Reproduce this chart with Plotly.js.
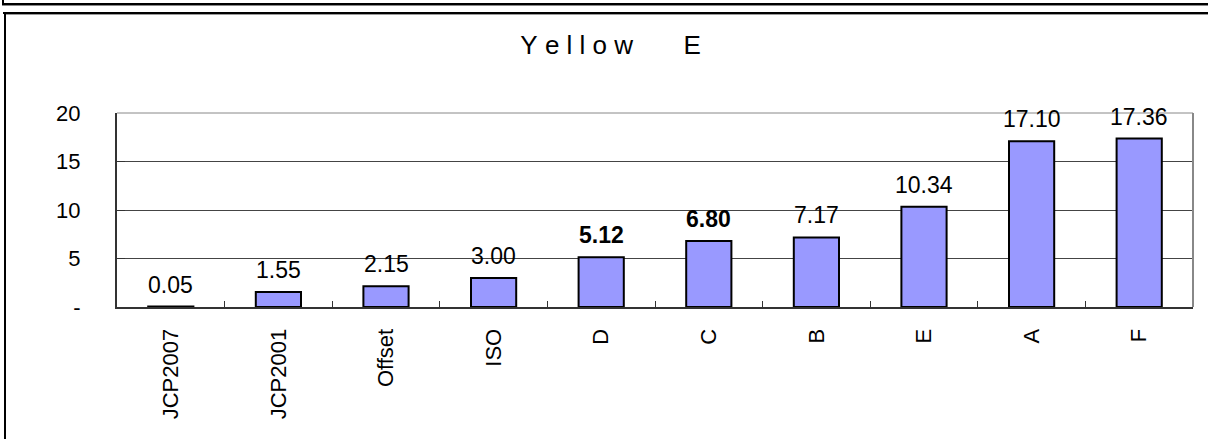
<!DOCTYPE html>
<html>
<head>
<meta charset="utf-8">
<script src="https://cdn.plot.ly/plotly-3.0.1.min.js"></script>
<style>
  html, body { margin: 0; padding: 0; background: #fff; }
  #wrap { position: relative; width: 1208px; height: 439px; overflow: hidden; }
  #chart { position: absolute; left: 0; top: 0; width: 1208px; height: 439px; }
  .ln { position: absolute; pointer-events: none; }
</style>
</head>
<body>
<div id="wrap">
  <div id="chart"></div>
  <div class="ln" style="left:2px;top:0;width:2px;height:5px;background:#000;"></div>
  <div class="ln" style="left:2px;top:3px;width:1206px;height:2px;background:#000;"></div>
  <div class="ln" style="left:2px;top:5px;width:1206px;height:1px;background:#888;"></div>
  <div class="ln" style="left:3px;top:12px;width:1205px;height:2px;background:#000;"></div>
  <div class="ln" style="left:4px;top:14px;width:1204px;height:1px;background:#999;"></div>
  <div class="ln" style="left:4px;top:12px;width:2px;height:427px;background:#000;"></div>
</div>
<script>
const categories = ['JCP2007', 'JCP2001', 'Offset', 'ISO', 'D', 'C', 'B', 'E', 'A', 'F'];
const values = [0.05, 1.55, 2.15, 3.00, 5.12, 6.80, 7.17, 10.34, 17.10, 17.36];
const boldLabels = ['D', 'C'];
const yTickVals = [0, 5, 10, 15, 20];
const yTickText = ['-', '5', '10', '15', '20'];
const titleText = 'Y\u00a0e\u00a0l\u00a0l\u00a0o\u00a0w\u00a0\u00a0\u00a0\u00a0\u00a0\u00a0\u00a0E';

const annotations = categories.map((c, i) => ({
  x: c, y: values[i], xref: 'x', yref: 'y',
  text: boldLabels.includes(c) ? '<b>' + values[i].toFixed(2) + '</b>' : values[i].toFixed(2),
  showarrow: false, yanchor: 'bottom', yshift: 7,
  font: { family: 'Liberation Sans, Arial, sans-serif', size: 23, color: '#000' }
}));

const trace = {
  type: 'bar', x: categories, y: values,
  marker: { color: '#9999FF', line: { color: '#000', width: 2 } },
  hoverinfo: 'none'
};

const layout = {
  width: 1208, height: 439,
  margin: { l: 117, r: 15, t: 113, b: 132 },
  paper_bgcolor: '#fff', plot_bgcolor: '#fff',
  bargap: 0.58,
  showlegend: false,
  title: {
    text: titleText, xref: 'container', x: 0.5055, xanchor: 'center', yref: 'container', y: 0.8975, yanchor: 'middle',
    font: { family: 'Liberation Sans, Arial, sans-serif', size: 26, color: '#000' }
  },
  xaxis: {
    type: 'category', range: [-0.5, 9.5],
    showline: true, linecolor: '#333', linewidth: 2,
    ticks: 'inside', ticklen: 6, tickcolor: '#333', tickwidth: 1, tickson: 'boundaries',
    tickangle: -90, ticklabelstandoff: 11,
    tickfont: { family: 'Liberation Sans, Arial, sans-serif', size: 22, color: '#000' },
    showgrid: false, zeroline: false, fixedrange: true
  },
  yaxis: {
    range: [0, 20], tickvals: yTickVals, ticktext: yTickText,
    showline: true, linecolor: '#333', linewidth: 2,
    ticks: 'inside', ticklen: 8, tickcolor: '#333',
    showgrid: true, gridcolor: '#444', gridwidth: 1,
    ticklabelstandoff: 30,
    tickfont: { family: 'Liberation Sans, Arial, sans-serif', size: 22, color: '#000' },
    zeroline: false, fixedrange: true
  },
  shapes: [
    { type: 'line', xref: 'paper', yref: 'paper', x0: 1, x1: 1, y0: 0, y1: 1, line: { color: '#888', width: 2 } },
    { type: 'line', xref: 'paper', yref: 'paper', x0: 0, x1: 1, y0: 1, y1: 1, line: { color: '#888', width: 1 } }
  ],
  annotations: annotations
};

Plotly.newPlot('chart', [trace], layout, { displayModeBar: false, staticPlot: true });
</script>
</body>
</html>
